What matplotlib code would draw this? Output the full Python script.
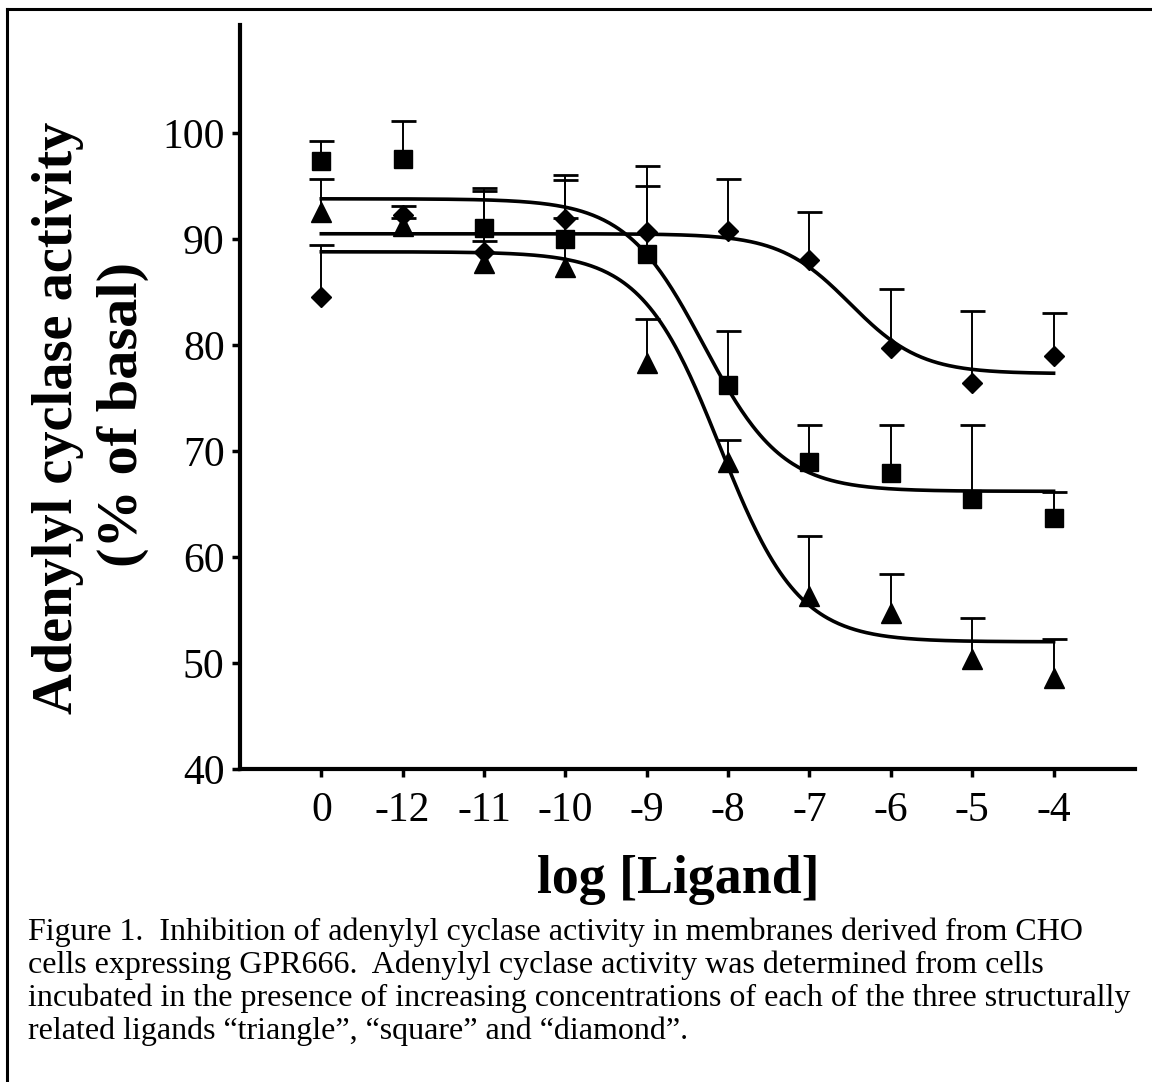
import numpy as np
import matplotlib
matplotlib.use("Agg")
import matplotlib.pyplot as plt
from matplotlib.lines import Line2D

plt.rcParams["font.family"] = ["Liberation Serif", "DejaVu Serif"]

# x categories (log concentration, 0 = no ligand)
x_labels = ["0", "-12", "-11", "-10", "-9", "-8", "-7", "-6", "-5", "-4"]

# means and upper errors (% of basal)
square_mean = [97.4, 97.6, 91.0, 90.0, 88.6, 76.2, 69.0, 67.9, 65.5, 63.7]
square_err = [1.9, 3.5, 3.8, 2.0, 8.3, 5.1, 3.5, 4.6, 7.0, 2.4]
triangle_mean = [92.6, 91.2, 87.7, 87.4, 78.3, 69.0, 56.3, 54.7, 50.4, 48.6]
triangle_err = [3.1, 0.8, 6.8, 8.2, 4.2, 2.0, 5.7, 3.7, 3.8, 3.7]
diamond_mean = [84.5, 92.3, 88.8, 91.9, 90.7, 90.8, 88.0, 79.7, 76.4, 79.0]
diamond_err = [4.9, 0.8, 1.0, 4.1, 4.3, 4.9, 4.6, 5.6, 6.8, 4.0]

# sigmoid fits: top, bottom, midpoint (tick index), hill slope
square_fit = (93.8, 66.2, 4.7, 0.9)
triangle_fit = (88.8, 52.0, 4.9, 0.9)
diamond_fit = (90.5, 77.3, 6.5, 1.0)

caption_lines = [
    "Figure 1.  Inhibition of adenylyl cyclase activity in membranes derived from CHO",
    "cells expressing GPR666.  Adenylyl cyclase activity was determined from cells",
    "incubated in the presence of increasing concentrations of each of the three structurally",
    "related ligands \u201ctriangle\u201d, \u201csquare\u201d and \u201cdiamond\u201d.",
]


def logistic(x, top, bottom, mid, slope):
    return bottom + (top - bottom) / (1 + 10 ** ((x - mid) * slope))


fig = plt.figure(figsize=(11.52, 10.82), dpi=100)
ax = fig.add_axes([0.2083, 0.2893, 0.7769, 0.6876])

pos = np.arange(len(x_labels))
xs = np.linspace(0, len(x_labels) - 1, 400)

for fit in [square_fit, triangle_fit, diamond_fit]:
    ax.plot(xs, logistic(xs, *fit), color="black", lw=2.6, zorder=2)

series = [
    (square_mean, square_err, "s", 13.5),
    (triangle_mean, triangle_err, "^", 14.5),
    (diamond_mean, diamond_err, "D", 10.5),
]
for mean, err, marker, ms in series:
    eb = ax.errorbar(pos, mean, yerr=[np.zeros(len(err)), err], fmt="none",
                     ecolor="black", elinewidth=1.4, capsize=9, capthick=2,
                     zorder=3)
    # only the upper half of each bar is drawn
    eb[1][0].set_visible(False)
    ax.plot(pos, mean, linestyle="none", marker=marker, markersize=ms,
            color="black", zorder=4)

ax.set_xlim(-1, 10)
ax.set_ylim(40, 110.2)
ax.set_xticks(pos)
ax.set_xticklabels(x_labels)
ax.set_yticks([40, 50, 60, 70, 80, 90, 100])
ax.tick_params(axis="both", labelsize=30, width=2.5, length=6, direction="out")
ax.tick_params(axis="x", pad=10)
ax.tick_params(axis="y", pad=5)
for side in ["top", "right"]:
    ax.spines[side].set_visible(False)
for side in ["left", "bottom"]:
    ax.spines[side].set_linewidth(3)

fig.text(58 / 1152, 1 - 418 / 1082, "Adenylyl cyclase activity", rotation=90,
         ha="center", va="center", fontsize=40.7, fontweight="bold")
fig.text(123 / 1152, 1 - 414 / 1082, "(% of basal)", rotation=90,
         ha="center", va="center", fontsize=42, fontweight="bold")
fig.text(678 / 1152, 1 - 880 / 1082, "log [Ligand]", ha="center", va="center",
         fontsize=38.8, fontweight="bold")

for i, line in enumerate(caption_lines):
    fig.text(28 / 1152, 1 - (932 + 33 * i) / 1082, line, ha="left", va="center",
             fontsize=23)

# frame lines (only top and left edges are visible)
fig.add_artist(Line2D([7 / 1152, 1], [1 - 9 / 1082, 1 - 9 / 1082],
                      transform=fig.transFigure, color="black", lw=2.2))
fig.add_artist(Line2D([7 / 1152, 7 / 1152], [0, 1 - 9 / 1082],
                      transform=fig.transFigure, color="black", lw=2.2))

fig.savefig("out.png", dpi=100)
